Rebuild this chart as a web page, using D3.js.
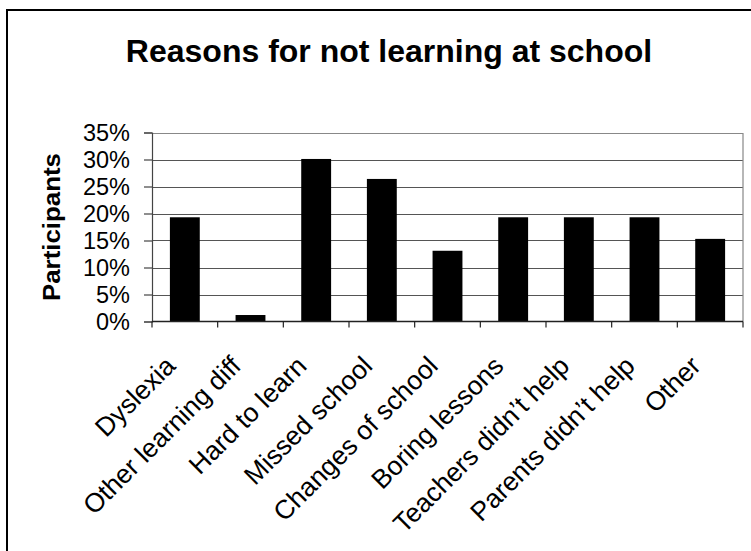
<!DOCTYPE html>
<html>
<head>
<meta charset="utf-8">
<script src="https://cdn.jsdelivr.net/npm/d3@7"></script>
<style>
  html, body { margin: 0; padding: 0; background: #fff; }
  svg { display: block; }
  text { font-family: "Liberation Sans", Arial, sans-serif; fill: #000; }
</style>
</head>
<body>
<script>
const title = "Reasons for not learning at school";
const yAxisTitle = "Participants";
const categories = ["Dyslexia", "Other learning diff", "Hard to learn", "Missed school",
  "Changes of school", "Boring lessons", "Teachers didn\u2019t help", "Parents didn\u2019t help", "Other"];
const values = [19.3, 1.2, 30.1, 26.4, 13.1, 19.3, 19.3, 19.3, 15.3];
const yTicks = [0, 5, 10, 15, 20, 25, 30, 35];

const W = 751, H = 551;
const plot = { left: 152, right: 743, top: 132.5, bottom: 321.5 };

const svg = d3.select("body").append("svg").attr("width", W).attr("height", H);

// outer chart border (clipped by the picture on right and bottom)
svg.append("rect").attr("x", 7).attr("y", 10).attr("width", 800).attr("height", 600)
  .attr("fill", "none").attr("stroke", "#000").attr("stroke-width", 2);

svg.append("text").attr("x", 389).attr("y", 62).attr("text-anchor", "middle")
  .attr("font-size", 32).attr("font-weight", "bold").text(title);

const x = d3.scaleBand().domain(categories).range([plot.left, plot.right]).paddingInner(0.545).paddingOuter(0.2725);
const xOuter = d3.scaleBand().domain(categories).range([plot.left, plot.right]);
const y = d3.scaleLinear().domain([0, 35]).range([plot.bottom, plot.top]);

// gridlines
svg.append("g").selectAll("line").data(yTicks.filter(d => d > 0 && d < 35)).join("line")
  .attr("x1", plot.left).attr("x2", plot.right)
  .attr("y1", d => Math.round(y(d)) + 0.5).attr("y2", d => Math.round(y(d)) + 0.5)
  .attr("stroke", "#555").attr("stroke-width", 1.2);

// plot frame top & right
svg.append("path")
  .attr("d", `M${plot.left},${Math.round(plot.top)+0.5}H${plot.right}V${plot.bottom}`)
  .attr("fill", "none").attr("stroke", "#888").attr("stroke-width", 1.2);

// bars
svg.append("g").selectAll("rect").data(values).join("rect")
  .attr("x", (d, i) => x(categories[i]))
  .attr("width", x.bandwidth())
  .attr("y", d => y(d))
  .attr("height", d => y(0) - y(d))
  .attr("fill", "#000");

// y axis
const yAxis = d3.axisLeft(y).tickValues(yTicks).tickSize(8).tickPadding(14).tickFormat(d => d + "%");
const gy = svg.append("g").attr("transform", `translate(${plot.left},0)`).call(yAxis);
gy.select(".domain").attr("stroke", "#444").attr("stroke-width", 1.2);
gy.selectAll(".tick line").attr("stroke", "#444").attr("stroke-width", 1.2);
gy.selectAll(".tick text").attr("font-size", 23.5).attr("font-family", "Liberation Sans, Arial, sans-serif").attr("dy", "0.36em");

// x axis with boundary ticks
const gx = svg.append("g").attr("transform", `translate(0,${plot.bottom})`);
gx.append("line").attr("x1", plot.left).attr("x2", plot.right).attr("y1", 0).attr("y2", 0)
  .attr("stroke", "#222").attr("stroke-width", 1.4);
const bounds = categories.map(c => xOuter(c)).concat([plot.right]);
gx.selectAll("line.tk").data(bounds).join("line").attr("class", "tk")
  .attr("x1", d => d).attr("x2", d => d).attr("y1", 0).attr("y2", 6)
  .attr("stroke", "#222").attr("stroke-width", 1.2);

gx.selectAll("text.lbl").data(categories).join("text").attr("class", "lbl")
  .attr("text-anchor", "end")
  .attr("font-size", 26.5)
  .attr("transform", d => `translate(${xOuter(d) + xOuter.bandwidth()/2 - 8},${46}) rotate(-45)`)
  .text(d => d);

// y axis title
svg.append("text").attr("transform", `translate(60,${(plot.top + plot.bottom)/2}) rotate(-90)`)
  .attr("text-anchor", "middle").attr("font-size", 23).attr("font-weight", "bold")
  .attr("textLength", 148).attr("lengthAdjust", "spacingAndGlyphs").text(yAxisTitle);
</script>
</body>
</html>
